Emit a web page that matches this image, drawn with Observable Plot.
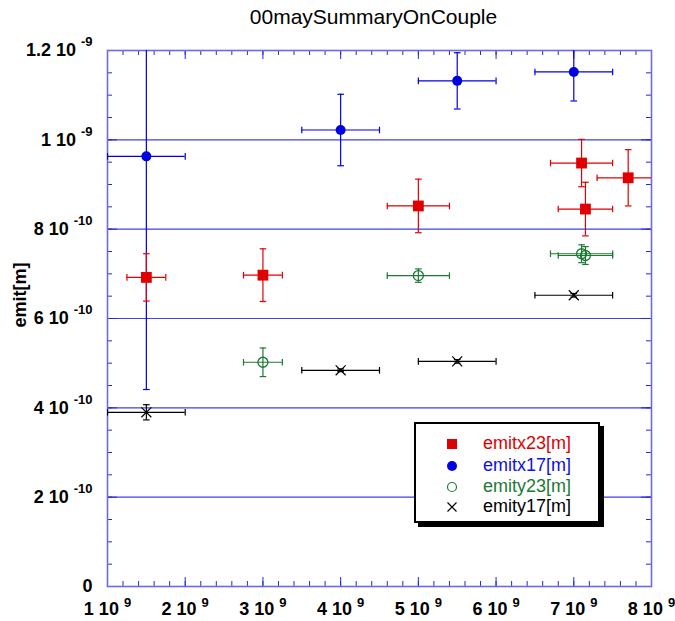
<!DOCTYPE html>
<html><head><meta charset="utf-8">
<script src="https://cdn.jsdelivr.net/npm/d3@7"></script>
<script src="https://cdn.jsdelivr.net/npm/@observablehq/plot@0.6"></script>
<style>
body{margin:0;background:#fff;font-family:"Liberation Sans",Arial,sans-serif;}
#wrap{position:relative;width:675px;height:621px;}
#legend{position:absolute;left:414px;top:422px;width:182px;height:97px;border:2px solid #000;box-shadow:4px 4px 0 #000;background:#fff;}
.row{position:absolute;left:0;width:180px;height:22px;font-size:18px;line-height:22px;}
.row svg{position:absolute;left:28px;top:4px;}
.row span{position:absolute;left:67px;top:0;white-space:nowrap;}
</style></head>
<body><div id="wrap"></div>
<script>
// ---- data ----
const title = "00maySummaryOnCouple";
const yLabel = "emit[m]";
const seriesNames = ["emitx23[m]", "emitx17[m]", "emity23[m]", "emity17[m]"];
const seriesColors = ["#e00000", "#0000e0", "#1b7a32", "#000000"];

const emitx23X  = [1.5e9, 3.0e9, 5.0e9, 7.1e9, 7.15e9, 7.7e9];
const emitx23Y  = [6.92e-10, 6.97e-10, 8.52e-10, 9.48e-10, 8.45e-10, 9.15e-10];
const emitx23Xe = [0.25e9, 0.25e9, 0.4e9, 0.4e9, 0.35e9, 0.4e9];
const emitx23Ye = [0.53e-10, 0.59e-10, 0.6e-10, 0.53e-10, 0.6e-10, 0.63e-10];

const emitx17X  = [1.5e9, 4.0e9, 5.5e9, 7.0e9];
const emitx17Y  = [9.63e-10, 10.22e-10, 11.32e-10, 11.52e-10];
const emitx17Xe = [0.5e9, 0.5e9, 0.5e9, 0.5e9];
const emitx17Ye = [5.22e-10, 0.8e-10, 0.63e-10, 0.65e-10];

const emity23X  = [3.0e9, 5.0e9, 7.1e9, 7.15e9];
const emity23Y  = [5.02e-10, 6.96e-10, 7.45e-10, 7.41e-10];
const emity23Xe = [0.25e9, 0.4e9, 0.4e9, 0.35e9];
const emity23Ye = [0.32e-10, 0.15e-10, 0.2e-10, 0.2e-10];

const emity17X  = [1.5e9, 4.0e9, 5.5e9, 7.0e9];
const emity17Y  = [3.90e-10, 4.84e-10, 5.04e-10, 6.52e-10];
const emity17Xe = [0.5e9, 0.5e9, 0.5e9, 0.5e9];
const emity17Ye = [0.17e-10, 0.03e-10, 0.04e-10, 0.04e-10];

const xTicks = [1e9, 2e9, 3e9, 4e9, 5e9, 6e9, 7e9, 8e9];
const xTickLabels = ["1 10^9", "2 10^9", "3 10^9", "4 10^9", "5 10^9", "6 10^9", "7 10^9", "8 10^9"];
const yTicks = [0, 2e-10, 4e-10, 6e-10, 8e-10, 1e-9, 1.2e-9];
const yTickLabels = ["0", "2 10^-10", "4 10^-10", "6 10^-10", "8 10^-10", "1 10^-9", "1.2 10^-9"];
const yGrid = [2e-10, 4e-10, 6e-10, 8e-10, 1e-9];
const xMinor = d3.range(10, 81, 2).map(v => v * 1e8);
const yMinor = d3.range(0, 25, 1).map(v => v * 5e-11);

// ---- layout ----
const W = 675, H = 621;
const mL = 107, mR = 24, mT = 50, mB = 35;
const iw = W - mL - mR, ih = H - mT - mB;

const rows = (X, Y, Xe, Ye) => X.map((x, i) => ({x, y: Y[i], xe: Xe[i], ye: Ye[i]}));

const hcap = {draw(ctx, size) { const r = Math.sqrt(size / Math.PI); ctx.moveTo(-r, 0); ctx.lineTo(r, 0); }};
const vcap = {draw(ctx, size) { const r = Math.sqrt(size / Math.PI); ctx.moveTo(0, -r); ctx.lineTo(0, r); }};

function series(data, color, marker) {
  const sw = 1.2;
  return [
    Plot.ruleX(data, {x: "x", y1: d => d.y - d.ye, y2: d => d.y + d.ye, stroke: color, strokeWidth: sw, clip: true}),
    Plot.ruleY(data, {y: "y", x1: d => d.x - d.xe, x2: d => d.x + d.xe, stroke: color, strokeWidth: sw, clip: true}),
    Plot.dot(data, {x: "x", y: d => d.y + d.ye, symbol: hcap, r: 3.3, stroke: color, strokeWidth: sw, fill: "none", clip: true}),
    Plot.dot(data, {x: "x", y: d => d.y - d.ye, symbol: hcap, r: 3.3, stroke: color, strokeWidth: sw, fill: "none", clip: true}),
    Plot.dot(data, {x: d => d.x + d.xe, y: "y", symbol: vcap, r: 3.3, stroke: color, strokeWidth: sw, fill: "none", clip: true}),
    Plot.dot(data, {x: d => d.x - d.xe, y: "y", symbol: vcap, r: 3.3, stroke: color, strokeWidth: sw, fill: "none", clip: true}),
    Plot.dot(data, {x: "x", y: "y", ...marker})
  ];
}

const tickColor = "#2828d8";
const svg = Plot.plot({
  width: W, height: H,
  marginLeft: mL, marginRight: mR, marginTop: mT, marginBottom: mB,
  x: {domain: [1e9, 8e9], axis: null},
  y: {domain: [0, 1.2e-9], axis: null},
  style: {fontFamily: "'Liberation Sans', Arial, sans-serif", background: "white", overflow: "visible", color: "black"},
  marks: [
    Plot.ruleY(yGrid, {y: d => d, stroke: "#4040e4", strokeWidth: 1.1}),
    // ticks (inward) on all sides
    Plot.tickY(yMinor, {y: d => d, insetRight: iw - 5, stroke: tickColor}),
    Plot.tickY(yMinor, {y: d => d, insetLeft: iw - 5, stroke: tickColor}),
    Plot.tickY(yTicks, {y: d => d, insetRight: iw - 10, stroke: tickColor}),
    Plot.tickY(yTicks, {y: d => d, insetLeft: iw - 10, stroke: tickColor}),
    Plot.tickX(xMinor, {x: d => d, insetTop: ih - 5, stroke: tickColor}),
    Plot.tickX(xMinor, {x: d => d, insetBottom: ih - 5, stroke: tickColor}),
    Plot.tickX(xTicks, {x: d => d, insetTop: ih - 9, stroke: tickColor}),
    Plot.tickX(xTicks, {x: d => d, insetBottom: ih - 9, stroke: tickColor}),
    Plot.frame({stroke: "#6a6aec", strokeWidth: 1.6}),
    ...series(rows(emitx17X, emitx17Y, emitx17Xe, emitx17Ye), seriesColors[1], {symbol: "circle", r: 5, fill: seriesColors[1]}),
    ...series(rows(emitx23X, emitx23Y, emitx23Xe, emitx23Ye), seriesColors[0], {symbol: "square", r: 6.1, fill: seriesColors[0]}),
    ...series(rows(emity23X, emity23Y, emity23Xe, emity23Ye), seriesColors[2], {symbol: "circle", r: 5, fill: "none", stroke: seriesColors[2], strokeWidth: 1.3}),
    ...series(rows(emity17X, emity17Y, emity17Xe, emity17Ye), seriesColors[3], {symbol: "times", r: 4.6, stroke: seriesColors[3], strokeWidth: 1.2}),
    // tick labels
    Plot.text(yTicks, {y: d => d, text: (d, i) => yTickLabels[i], frameAnchor: "left", textAnchor: "end", dx: -15, lineAnchor: "middle", fontSize: 18, fontWeight: "bold", fill: "black"}),
    Plot.text(xTicks, {x: d => d, text: (d, i) => xTickLabels[i], frameAnchor: "bottom", textAnchor: "middle", dy: 23, lineAnchor: "middle", fontSize: 18, fontWeight: "bold", fill: "black"}),
    // title and y label
    Plot.text([title], {text: d => d, frameAnchor: "top", dx: -6, dy: -33, lineAnchor: "middle", fontSize: 21, fill: "black"}),
    Plot.text([yLabel], {text: d => d, frameAnchor: "left", rotate: -90, dx: -87, dy: 9, lineAnchor: "middle", fontSize: 18, fontWeight: "bold", fill: "black"})
  ]
});

// superscripts
d3.select(svg).selectAll("text").each(function () {
  const s = this.textContent;
  if (!s.includes("^")) return;
  const [base, sup] = s.split("^");
  const g = this.parentNode;
  const isY = g && g.getAttribute && g.getAttribute("text-anchor") === "end";
  while (this.firstChild) this.removeChild(this.firstChild);
  d3.select(this).append("tspan").text(base + " ");
  d3.select(this).append("tspan").attr("dy", isY ? -10 : -8).attr("font-size", 13).text(sup);
});

const wrap = document.getElementById("wrap");
wrap.appendChild(svg);

// legend
const legend = document.createElement("div");
legend.id = "legend";
const rowTops = [8, 30, 51, 71];
const markerSvgs = [
  `<svg width="16" height="16"><rect x="3" y="3" width="10" height="10" fill="${seriesColors[0]}"/></svg>`,
  `<svg width="16" height="16"><circle cx="8" cy="8" r="5" fill="${seriesColors[1]}"/></svg>`,
  `<svg width="16" height="16"><circle cx="8" cy="8" r="4.5" fill="none" stroke="${seriesColors[2]}" stroke-width="1.2"/></svg>`,
  `<svg width="16" height="16"><path d="M3.5,3.5L12.5,12.5M12.5,3.5L3.5,12.5" stroke="${seriesColors[3]}" stroke-width="1.2"/></svg>`
];
seriesNames.forEach((name, i) => {
  const r = document.createElement("div");
  r.className = "row";
  r.style.top = rowTops[i] + "px";
  r.innerHTML = markerSvgs[i] + `<span style="color:${i === 1 ? "#1010e0" : seriesColors[i]}">${name}</span>`;
  legend.appendChild(r);
});
wrap.appendChild(legend);
</script>
</body></html>
